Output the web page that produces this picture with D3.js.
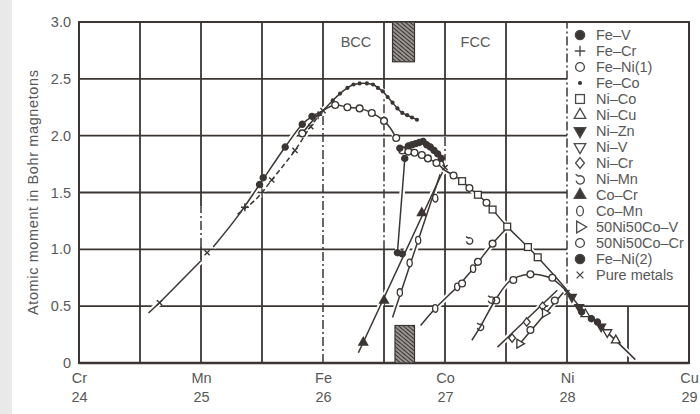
<!DOCTYPE html>
<html lang="en">
<head>
<meta charset="UTF-8">
<title>Atomic moment vs. electron number</title>
<script src="https://d3js.org/d3.v7.min.js"></script>
<style>
  html, body { margin: 0; padding: 0; background: #fff; overflow: hidden; }
  svg { display: block; background: #fff; font-family: "Liberation Sans", Arial, sans-serif; }
  .lbl { fill: #585858; font-size: 14.5px; }
</style>
</head>
<body>
<svg width="700" height="414"></svg>
<script>
// ---- axis data ----
const elements = ["Cr", "Mn", "Fe", "Co", "Ni", "Cu"];
const atomicNumbers = [24, 25, 26, 27, 28, 29];
const yTicks = [0, 0.5, 1, 1.5, 2, 2.5, 3];

// ---- curves [Z, moment] ----
const lineLowLeft = [[24.57, 0.44], [24.66, 0.53], [25.0, 0.9]];
const lineFeV = [[25.1, 1.02], [25.3, 1.29], [25.48, 1.57], [25.69, 1.9], [25.83, 2.1], [25.91, 2.17], [26.0, 2.22]];
const lineFeCr = [[25.3, 1.31], [25.45, 1.44], [25.58, 1.61], [25.77, 1.87], [25.88, 2.05], [25.94, 2.14], [26.0, 2.21]];
const lineFeCo = [[26.0, 2.22], [26.08, 2.31], [26.14, 2.37], [26.2, 2.42], [26.25, 2.45], [26.3, 2.46], [26.36, 2.46],
  [26.41, 2.45], [26.45, 2.42], [26.49, 2.39], [26.53, 2.34], [26.57, 2.29], [26.61, 2.24], [26.65, 2.2],
  [26.69, 2.18], [26.73, 2.16], [26.77, 2.14]];
const lineFeNiBcc = [[25.83, 2.02], [25.93, 2.15], [26.0, 2.22], [26.1, 2.27], [26.2, 2.25], [26.3, 2.24],
  [26.4, 2.2], [26.5, 2.13], [26.55, 2.07], [26.6, 1.98]];
const lineFeNiInvar = [[26.61, 0.97], [26.67, 1.79]];
const lineFeNiTop = [[26.63, 1.89], [26.7, 1.91], [26.76, 1.93], [26.82, 1.95], [26.88, 1.9], [26.93, 1.85], [26.97, 1.8], [27.0, 1.72]];
const lineFeNiFcc = [[26.65, 1.87], [26.7, 1.86], [26.75, 1.85], [26.81, 1.83], [26.86, 1.8], [26.93, 1.76], [26.99, 1.7]];
const lineNiMain = [[26.99, 1.7], [27.07, 1.65], [27.14, 1.6], [27.2, 1.54], [27.27, 1.48], [27.34, 1.41],
  [27.51, 1.2], [27.68, 1.02], [27.76, 0.93], [28.0, 0.64], [28.1, 0.5], [28.3, 0.3], [28.56, 0.03]];
const lineCoCr = [[26.29, 0.09], [26.98, 1.68]];
const lineCoMn = [[26.57, 0.4], [26.96, 1.66]];
const line50Ni50Co = [[26.8, 0.33], [26.92, 0.48], [27.1, 0.67], [27.23, 0.83], [27.39, 1.05], [27.51, 1.19]];
const lineNiMn = [[27.22, 0.2], [27.29, 0.32], [27.41, 0.55], [27.52, 0.71], [27.6, 0.76], [27.7, 0.78],
  [27.8, 0.77], [27.88, 0.74], [27.96, 0.67], [28.0, 0.63]];
const lineNiCrA = [[27.43, 0.14], [27.92, 0.64]];
const lineNiCrB = [[27.59, 0.14], [27.97, 0.62]];

// ---- plotted symbols [Z, moment] ----
const ptsFeV = [[25.48, 1.57], [25.51, 1.63], [25.69, 1.9], [25.83, 2.1], [25.91, 2.17]];
const ptsFeCr = [[25.36, 1.37], [25.5, 1.5], [25.96, 2.18]];
const ptsFeNi1 = [[25.83, 2.02], [26.1, 2.27], [26.2, 2.25], [26.3, 2.24], [26.4, 2.2], [26.5, 2.13], [26.6, 1.98],
  [26.65, 1.87], [26.7, 1.86], [26.75, 1.85], [26.81, 1.83], [26.86, 1.8], [26.93, 1.76], [27.07, 1.65],
  [27.2, 1.54], [27.34, 1.41]];
const ptsFeCo = lineFeCo.slice(1);
const ptsNiCo = [[27.14, 1.6], [27.27, 1.48], [27.39, 1.35], [27.51, 1.2], [27.68, 1.02], [27.76, 0.93]];
const ptsNiCu = [[28.15, 0.43], [28.4, 0.2]];
const ptsNiZn = [[28.04, 0.58], [28.1, 0.49], [28.28, 0.32]];
const ptsNiV = [[28.33, 0.27]];
const ptsNiCr = [[27.55, 0.22], [27.67, 0.36], [27.8, 0.5]];
const ptsNiMn = [[27.2, 1.08], [27.29, 0.32], [27.38, 0.56]];
const ptsCoCr = [[26.33, 0.18], [26.5, 0.55], [26.81, 1.32]];
const ptsCoMn = [[26.63, 0.62], [26.71, 0.88], [26.78, 1.08], [26.92, 1.45], [26.92, 0.48], [27.1, 0.67], [27.23, 0.83]];
const pts50V = [[27.61, 0.17], [27.82, 0.44]];
const pts50Cr = [[27.14, 0.7], [27.27, 0.89], [27.39, 1.05], [27.7, 0.29], [27.9, 0.55],
  [27.42, 0.55], [27.56, 0.73], [27.7, 0.78], [27.88, 0.75]];
const ptsFeNi2 = [[26.63, 1.89], [26.67, 1.8], [26.7, 1.91], [26.73, 1.92], [26.76, 1.93], [26.79, 1.94],
  [26.82, 1.95], [26.85, 1.92], [26.88, 1.9], [26.91, 1.87], [26.94, 1.84], [26.97, 1.8],
  [26.61, 0.97], [26.65, 0.96], [28.12, 0.45], [28.2, 0.39], [28.25, 0.36]];
const ptsPure = [[24.66, 0.53], [25.05, 0.97], [25.58, 1.61], [25.77, 1.87], [25.9, 2.08], [26.0, 2.22], [27.0, 1.72], [28.0, 0.62]];

// ---- phase regions ----
const hatchTop = [26.57, 26.75, 2.65, 3.0];
const hatchBottom = [26.59, 26.75, 0, 0.33];
const phaseLabels = [["BCC", 26.27, 2.82], ["FCC", 27.25, 2.82]];
// dash-dot stretches of vertical grid lines [Z, from, to]
const dashedGrid = [[25, 1.02, 1.38], [26, 0, 2.25], [26.5, 1.0, 2.38], [27, 1.76, 2.0], [28, 0.55, 3.0]];

const legendItems = [
  ["bigdot", "Fe\u2013V"], ["plus", "Fe\u2013Cr"], ["circle", "Fe\u2013Ni(1)"], ["dot", "Fe\u2013Co"],
  ["square", "Ni\u2013Co"], ["tri", "Ni\u2013Cu"], ["trifilldown", "Ni\u2013Zn"], ["tridown", "Ni\u2013V"],
  ["diamond", "Ni\u2013Cr"], ["curl", "Ni\u2013Mn"], ["trifill", "Co\u2013Cr"], ["zero", "Co\u2013Mn"],
  ["triright", "50Ni50Co\u2013V"], ["circle", "50Ni50Co\u2013Cr"], ["bigdot", "Fe\u2013Ni(2)"], ["x", "Pure metals"]
];

const ink = "#3b3633";
const svg = d3.select("svg");
const x = d3.scaleLinear().domain([24, 29]).range([79, 689]);
const y = d3.scaleLinear().domain([0, 3]).range([363, 22]);

svg.append("rect").attr("x", 0).attr("y", 0).attr("width", 12).attr("height", 414).attr("fill", "#e9e9e9");

// hatch pattern
const pat = svg.append("defs").append("pattern").attr("id", "hatch")
  .attr("patternUnits", "userSpaceOnUse").attr("width", 3).attr("height", 3)
  .attr("patternTransform", "rotate(-50)");
pat.append("rect").attr("width", 3).attr("height", 3).attr("fill", "#9a9490");
pat.append("line").attr("x1", 0).attr("y1", 0).attr("x2", 0).attr("y2", 3).attr("stroke", "#2f2a28").attr("stroke-width", 1.8);

// ---- grid ----
const grid = svg.append("g").attr("stroke", ink).attr("stroke-width", 1.8).attr("fill", "none");
yTicks.filter(v => v > 0 && v < 3).forEach(v => {
  grid.append("line").attr("x1", x(24)).attr("x2", v === 0.5 ? x(29) : x(28)).attr("y1", y(v)).attr("y2", y(v));
});
d3.range(24.5, 29, 0.5).forEach(z => {
  const top = z === 28.5 ? 0.5 : 3;
  const dashes = dashedGrid.filter(d => d[0] === z);
  // split the line in solid and dash-dot pieces
  let cuts = [[0, top, false]];
  dashes.forEach(d => {
    const next = [];
    cuts.forEach(c => {
      if (c[2] || d[2] <= c[0] || d[1] >= c[1]) { next.push(c); return; }
      if (d[1] > c[0]) next.push([c[0], d[1], false]);
      next.push([Math.max(c[0], d[1]), Math.min(c[1], d[2]), true]);
      if (d[2] < c[1]) next.push([d[2], c[1], false]);
    });
    cuts = next;
  });
  cuts.forEach(c => {
    grid.append("line").attr("x1", x(z)).attr("x2", x(z)).attr("y1", y(c[0])).attr("y2", y(c[1]))
      .attr("stroke-width", c[2] ? 1.5 : 1.8)
      .attr("stroke-dasharray", c[2] ? "9,3,2,3" : null);
  });
});
// frame
grid.append("rect").attr("x", x(24)).attr("y", y(3)).attr("width", x(29) - x(24)).attr("height", y(0) - y(3)).attr("stroke-width", 2);
grid.append("line").attr("x1", x(24)).attr("x2", x(29)).attr("y1", y(0)).attr("y2", y(0)).attr("stroke-width", 2.6);

// hatched boxes
[hatchTop, hatchBottom].forEach(h => {
  svg.append("rect").attr("x", x(h[0])).attr("y", y(h[3])).attr("width", x(h[1]) - x(h[0]))
    .attr("height", y(h[2]) - y(h[3])).attr("fill", "url(#hatch)").attr("stroke", ink).attr("stroke-width", 1.2);
});

// ---- axes ----
const xAxis = svg.append("g").attr("transform", `translate(0,${y(0)})`)
  .call(d3.axisBottom(x).tickValues(atomicNumbers).tickSize(0).tickFormat(""));
xAxis.select(".domain").remove();
xAxis.selectAll(".tick text").each(function(d, i) {
  const t = d3.select(this).attr("class", "lbl").attr("y", 0).attr("dy", 0);
  t.append("tspan").attr("x", 0).attr("y", 20).text(elements[i]);
  t.append("tspan").attr("x", 0).attr("y", 39).text(d);
});

const yAxis = svg.append("g").attr("transform", `translate(${x(24)},0)`)
  .call(d3.axisLeft(y).tickValues(yTicks).tickSize(0).tickPadding(8)
    .tickFormat(d => d === 0 ? "0" : d3.format(".1f")(d)));
yAxis.select(".domain").remove();
yAxis.selectAll(".tick text").attr("class", "lbl");

svg.append("text").attr("class", "lbl")
  .attr("transform", `translate(38,${(y(0) + y(3)) / 2}) rotate(-90)`)
  .attr("text-anchor", "middle").attr("textLength", 245).attr("lengthAdjust", "spacing")
  .text("Atomic moment in Bohr magnetons");

phaseLabels.forEach(p => {
  svg.append("text").attr("class", "lbl").attr("x", x(p[1])).attr("y", y(p[2]) + 5)
    .attr("text-anchor", "middle").text(p[0]);
});

// ---- curves ----
const line = d3.line().x(d => x(d[0])).y(d => y(d[1]));
const smooth = d3.line().x(d => x(d[0])).y(d => y(d[1])).curve(d3.curveCatmullRom);
const curves = [
  [lineLowLeft, line, null], [lineFeV, smooth, null], [lineFeCr, smooth, "5,3"], [lineFeCo, smooth, null],
  [lineFeNiBcc, smooth, null], [lineFeNiInvar, line, null], [lineFeNiTop, smooth, null], [lineFeNiFcc, smooth, null],
  [lineNiMain, smooth, null], [lineCoCr, line, null], [lineCoMn, line, null], [line50Ni50Co, smooth, null],
  [lineNiMn, smooth, null], [lineNiCrA, line, null], [lineNiCrB, line, null]
];
const casing = svg.append("g").attr("fill", "none").attr("stroke", "#fff").attr("stroke-width", 5.5);
curves.forEach(c => casing.append("path").attr("d", c[1](c[0])));
const lines = svg.append("g").attr("fill", "none").attr("stroke", ink).attr("stroke-width", 1.5);
curves.forEach(c => lines.append("path").attr("d", c[1](c[0])).attr("stroke-dasharray", c[2]));

// ---- markers ----
function marker(g, type, cx, cy, s) {
  const m = g.append("g").attr("transform", `translate(${cx},${cy})`)
    .attr("stroke", ink).attr("stroke-width", 1.3).attr("fill", "#fff");
  const tri = (k, rot) => m.append("path").attr("d", d3.symbol(d3.symbolTriangle, 34 * k * k)())
    .attr("transform", `rotate(${rot})`);
  switch (type) {
    case "bigdot": m.append("circle").attr("r", 3.6 * s).attr("fill", ink); break;
    case "dot": m.append("circle").attr("r", 2.1 * s).attr("fill", ink).attr("stroke", "none"); break;
    case "circle": m.append("circle").attr("r", 3.4 * s); break;
    case "square": m.append("rect").attr("x", -3.4 * s).attr("y", -3.4 * s).attr("width", 6.8 * s).attr("height", 6.8 * s); break;
    case "tri": tri(s, 0); break;
    case "tridown": tri(s, 180); break;
    case "triright": tri(s, 90); break;
    case "trifill": tri(s, 0).attr("fill", ink); break;
    case "trifilldown": tri(s, 180).attr("fill", ink); break;
    case "diamond": m.append("path").attr("d", `M0,${-4.2 * s}L${3.4 * s},0L0,${4.2 * s}L${-3.4 * s},0Z`); break;
    case "zero": m.append("ellipse").attr("rx", 2.6 * s).attr("ry", 3.8 * s); break;
    case "plus": m.append("path").attr("fill", "none").attr("stroke-width", 1.4)
      .attr("d", `M${-4 * s},0H${4 * s}M0,${-4 * s}V${4 * s}`); break;
    case "x": m.append("path").attr("fill", "none").attr("stroke-width", 1.4)
      .attr("d", `M${-2.6 * s},${-2.6 * s}L${2.6 * s},${2.6 * s}M${2.6 * s},${-2.6 * s}L${-2.6 * s},${2.6 * s}`); break;
    case "curl": m.append("path").attr("fill", "none")
      .attr("d", `M${-3.4 * s},${-3.6 * s}L${-1.2 * s},${-2.2 * s}A${3.2 * s},${3.2 * s} 0 1 1 ${-3 * s},${1.2 * s}`); break;
  }
  return m;
}

const plotted = [
  [ptsFeCo, "dot"], [ptsFeNi1, "circle"], [ptsNiCo, "square"], [ptsCoMn, "zero"], [pts50Cr, "circle"],
  [ptsNiCr, "diamond"], [pts50V, "triright"], [ptsNiMn, "curl"], [ptsNiCu, "tri"], [ptsNiV, "tridown"],
  [ptsCoCr, "trifill"], [ptsNiZn, "trifilldown"], [ptsFeNi2, "bigdot"], [ptsFeV, "bigdot"],
  [ptsFeCr, "plus"], [ptsPure, "x"]
];
const mk = svg.append("g");
plotted.forEach(p => p[0].forEach(d => marker(mk, p[1], x(d[0]), y(d[1]), p[1] === "bigdot" ? 0.85 : 1)));

// ---- legend ----
const leg = svg.append("g").attr("transform", "translate(580,35)");
legendItems.forEach((it, i) => {
  const row = leg.append("g").attr("transform", `translate(0,${i * 16})`);
  marker(row, it[0], 0, 0, it[0] === "dot" ? 1 : 1.3).attr("stroke", "#4a4a4a");
  row.append("text").attr("class", "lbl").attr("x", 16).attr("y", 5).attr("font-size", "14px").text(it[1]);
});
</script>
</body>
</html>
